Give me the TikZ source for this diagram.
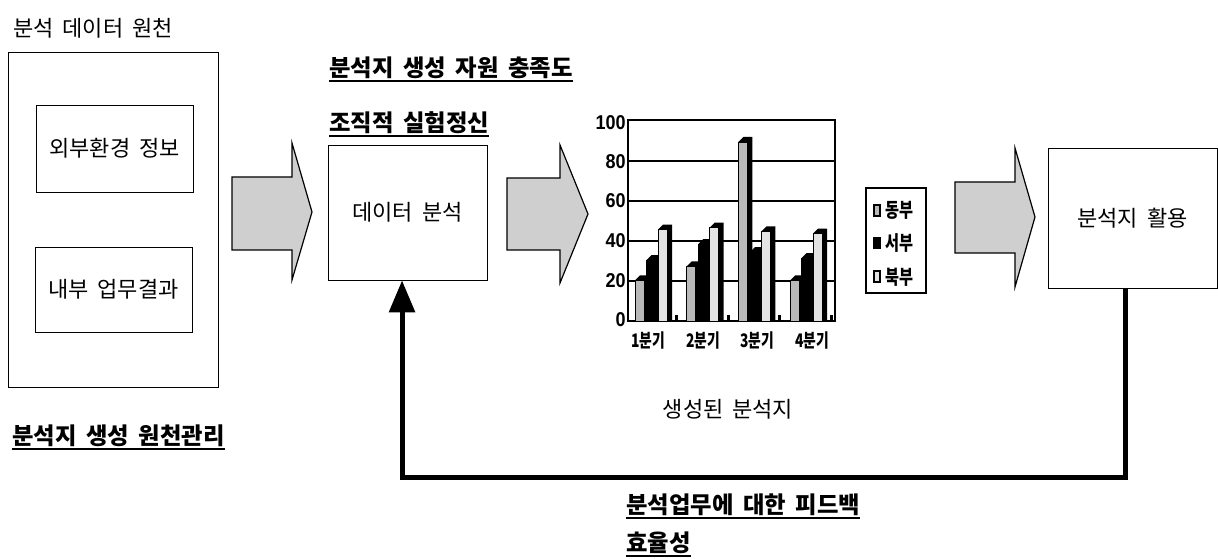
\documentclass[tikz,border=0pt]{standalone}
\usepackage{fontspec}
\setmainfont{Noto Sans CJK KR}[WordSpace=1.8]
\newfontfamily\numfont{Liberation Sans}
\usetikzlibrary{arrows.meta}
\def\PX{0.75pt}
\tikzset{
  box/.style={draw, line width=0.6pt, inner sep=0pt, font=\fontsize{16.5}{19}\selectfont},
  lbl/.style={inner sep=0pt, anchor=west, font=\fontsize{17.5}{20}\selectfont\bfseries},
  plain/.style={inner sep=0pt, font=\fontsize{16.5}{19}\selectfont},
  uline/.style={line width=1.3pt},
  blockarrow/.style={fill=gray!38, draw=black, line width=0.9pt, line join=miter},
  fb/.style={line width=3.75pt, -{Triangle[length=24pt,width=19pt]}},
  gridl/.style={line width=1.5pt},
  ylab/.style={anchor=east, inner sep=0pt, font=\numfont\bfseries\fontsize{15}{16}\selectfont},
  xlab/.style={inner sep=0pt, font=\fontsize{14}{15}\selectfont\bfseries},
  leg/.style={anchor=west, inner sep=0pt, font=\fontsize{15}{16}\selectfont\bfseries}
}
\begin{document}
\begin{tikzpicture}[x=0.75pt, y=-0.75pt]
\useasboundingbox (0,0) rectangle (1218,559);
\fill[white] (0,0) rectangle (1218,559);

% left source block
\node[plain, anchor=west] (srct) at (13,28) {분석 데이터 원천};
\node[box, minimum width=210*\PX, minimum height=335*\PX] (src) at (113,219.5) {};
\node[box, minimum width=157*\PX, minimum height=87*\PX] (ext) at (114.5,148.5) {외부환경 정보};
\node[box, minimum width=157*\PX, minimum height=85*\PX] (int) at (113.5,289.5) {내부 업무결과};
\node[lbl] (l2) at (12,436) {분석지 생성 원천관리};
\draw[uline] ([yshift=-1.5pt]l2.south west) -- ([yshift=-1.5pt]l2.south east);

% arrow 1
\filldraw[blockarrow] (232,177) -- (292,177) -- (292,143) -- (312,212) -- (292,280) -- (292,250) -- (232,250) -- cycle;

% data analysis
\node[lbl] (l3) at (329,68) {분석지 생성 자원 충족도};
\draw[uline] ([yshift=-1.5pt]l3.south west) -- ([yshift=-1.5pt]l3.south east);
\node[lbl] (l4) at (329,123) {조직적 실험정신};
\draw[uline] ([yshift=-1.5pt]l4.south west) -- ([yshift=-1.5pt]l4.south east);
\node[box, minimum width=159*\PX, minimum height=135*\PX] (dbox) at (407.5,212.5) {데이터 분석};

% arrow 2
\filldraw[blockarrow] (507,178) -- (560,178) -- (560,145) -- (588,214) -- (560,283) -- (560,250) -- (507,250) -- cycle;

% chart
\foreach \yy in {161,201,241,281} { \draw[gridl] (628,\yy) -- (835,\yy); }
\draw[line width=1.5pt] (628,321) -- (628,120) -- (835,120) -- (835,321) -- cycle;
\foreach \i/\va/\vb/\vc in {0/20.4/30.6/45.9,1/27.4/38.6/46.9,2/90/34.6/45,3/20.4/31.6/43.9}{
  \foreach \j/\v/\col in {0/\va/gray!55,1/\vb/black,2/\vc/gray!22}{
    \pgfmathsetmacro\xa{635+51.7*\i+11.5*\j}
    \pgfmathsetmacro\yt{321-1.99*\v}
    \fill[black] (\xa,321) -- (\xa,\yt) -- (\xa+5,\yt-5) -- (\xa+14,\yt-5) -- (\xa+14,321) -- cycle;
    \filldraw[fill=\col, draw=black, line width=0.4pt] (\xa,321) rectangle (\xa+9,\yt);
  }
  \pgfmathsetmacro\xs{635+51.7*\i+40}
  \fill[black] (\xs,315) rectangle (\xs+3,321);
}
\foreach \v/\yy in {100/123,80/162,60/201,40/241,20/281,0/320} {
  \node[ylab] at (626,\yy) {\scalebox{0.9}[1]{\v}};
}
\foreach \t/\xx in {1/648,2/703,3/757,4/812} {
  \node[xlab] at (\xx,341) {\scalebox{0.74}[1]{\t 분기}};
}
\node[plain] (gen) at (728,409) {생성된 분석지};

% legend
\draw[line width=1.5pt] (866,188) rectangle (926,293);
\filldraw[fill=gray!55, draw=black, line width=1.2pt] (874,205) rectangle (880,216);
\fill[black] (873,237) rectangle (881,249);
\filldraw[fill=gray!22, draw=black, line width=1.2pt] (874,271) rectangle (880,282);
\node[leg] at (885,210) {\scalebox{0.76}[1]{동부}};
\node[leg] at (885,243) {\scalebox{0.76}[1]{서부}};
\node[leg] at (885,277) {\scalebox{0.76}[1]{북부}};

% arrow 3
\filldraw[blockarrow] (955,182) -- (1015,182) -- (1015,148) -- (1035,217) -- (1015,287) -- (1015,253) -- (955,253) -- cycle;

% right box
\node[box, minimum width=169*\PX, minimum height=140*\PX] (rbox) at (1132.5,218) {분석지 활용};

% feedback
\coordinate (fbc) at (760,478);
\draw[fb] ([xshift=-5.6pt]rbox.south) |- (fbc) -| ([xshift=-4.1pt]dbox.south);
\node[lbl] (l5) at (626,505) {분석업무에 대한 피드백};
\draw[uline] ([yshift=-1.5pt]l5.south west) -- ([yshift=-1.5pt]l5.south east);
\node[lbl] (l6) at (626,543) {효율성};
\draw[uline] ([yshift=-1.5pt]l6.south west) -- ([yshift=-1.5pt]l6.south east);
\end{tikzpicture}
\end{document}
